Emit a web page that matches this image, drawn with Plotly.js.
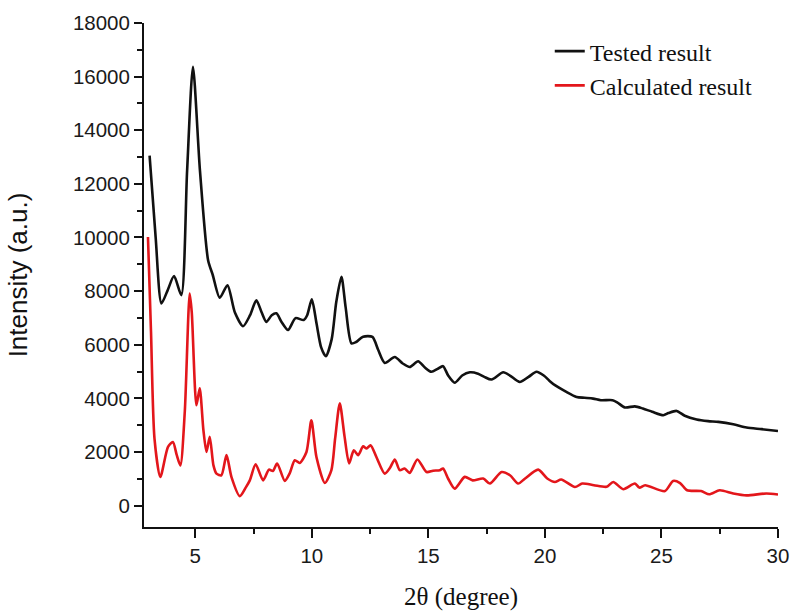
<!DOCTYPE html>
<html>
<head>
<meta charset="utf-8">
<script src="https://cdn.plot.ly/plotly-3.0.1.min.js"></script>
<style>html,body{margin:0;padding:0;background:#fff;}#chart{width:793px;height:611px;}</style>
</head>
<body>
<div id="chart"></div>
<script>
// Tested result (black)
const xTested = [3.04,3.3,3.55,3.8,4.09,4.40,4.65,4.90,5.2,5.55,5.75,6.05,6.38,6.7,7.05,7.35,7.62,7.85,8.05,8.28,8.48,8.7,8.98,9.3,9.65,9.8,10.0,10.2,10.4,10.6,10.85,11.05,11.27,11.45,11.7,11.9,12.2,12.6,12.85,13.13,13.56,13.9,14.2,14.56,14.85,15.13,15.4,15.63,15.85,16.13,16.45,16.78,17.13,17.4,17.71,18.21,18.5,18.92,19.3,19.64,19.95,20.2,20.43,20.9,21.36,21.7,22.07,22.4,22.9,23.1,23.43,23.86,24.2,24.6,25.08,25.3,25.65,26.0,26.51,27.0,27.44,28.08,28.65,29.3,30.0];
const yTested = [13050,10000,7540,8000,8560,7850,12500,16370,12500,9150,8600,7750,8220,7200,6690,7100,7660,7200,6850,7100,7170,6850,6550,6990,6920,7100,7690,6800,5900,5570,6200,7600,8530,7400,6050,6100,6300,6290,5800,5320,5540,5300,5170,5380,5150,4990,5100,5200,4850,4580,4850,4970,4920,4800,4700,4970,4850,4610,4800,4990,4850,4650,4490,4250,4050,4020,3990,3930,3930,3850,3660,3700,3620,3500,3370,3450,3530,3350,3210,3150,3120,3030,2910,2850,2780];
// Calculated result (red)
const xCalc = [2.97,3.1,3.25,3.5,3.83,4.04,4.2,4.36,4.55,4.76,4.85,5.05,5.19,5.35,5.48,5.62,5.78,5.91,6.12,6.34,6.55,6.91,7.15,7.34,7.59,7.91,8.16,8.33,8.51,8.84,9.05,9.27,9.48,9.77,9.98,10.2,10.56,10.84,11.0,11.2,11.4,11.6,11.8,11.99,12.2,12.35,12.52,12.77,13.13,13.35,13.56,13.77,13.98,14.2,14.53,14.92,15.2,15.49,15.63,15.85,16.13,16.56,16.9,17.35,17.64,18.14,18.5,18.85,19.15,19.71,20.1,20.43,20.7,21.29,21.6,22.1,22.65,22.93,23.36,23.86,24.05,24.3,25.15,25.5,25.8,26.1,26.7,27.05,27.5,28.08,28.65,29.5,30.0];
const yCalc = [10020,6500,2500,1070,2190,2370,1900,1500,3500,7910,7200,3740,4370,2800,2000,2560,1500,1190,1130,1880,1070,350,650,940,1540,940,1340,1290,1570,920,1200,1690,1590,2000,3180,1800,840,1320,2500,3810,2600,1570,2060,1880,2210,2130,2250,1810,1190,1400,1720,1320,1380,1220,1720,1250,1300,1320,1380,1000,630,1070,940,1010,820,1250,1130,820,1010,1340,1010,880,970,690,820,760,700,880,610,820,670,760,540,920,840,570,540,420,570,450,380,450,410];

const seriesNames = ['Tested result', 'Calculated result'];
const xTitle = '2θ (degree)';
const yTitle = 'Intensity (a.u.)';
const xTicks = [5,10,15,20,25,30];
const yTicks = [0,2000,4000,6000,8000,10000,12000,14000,16000,18000];

const traces = [
  {x: xTested, y: yTested, name: seriesNames[0], type: 'scatter', mode: 'lines',
   line: {color: '#111111', width: 2.6, shape: 'spline', smoothing: 0.7}},
  {x: xCalc, y: yCalc, name: seriesNames[1], type: 'scatter', mode: 'lines',
   line: {color: '#e3161b', width: 2.6, shape: 'spline', smoothing: 0.7}}
];

const tickFont = {family: 'Liberation Sans, Arial, sans-serif', size: 20.5, color: '#1a1a1a'};
const layout = {
  width: 793, height: 611,
  margin: {l: 144, r: 15, t: 23, b: 84},
  paper_bgcolor: '#ffffff', plot_bgcolor: '#ffffff',
  showlegend: true,
  legend: {x: 0.64, y: 0.988, xanchor: 'left', yanchor: 'top',
    font: {family: 'Liberation Serif, Times New Roman, serif', size: 24, color: '#111'},
    bgcolor: 'rgba(0,0,0,0)', borderwidth: 0},
  xaxis: {
    range: [2.8, 30], tickvals: xTicks, ticktext: xTicks.map(String),
    showline: true, linecolor: '#111', linewidth: 2, mirror: false,
    ticks: 'outside', ticklen: 9, tickwidth: 2, tickcolor: '#111',
    minor: {ticks: 'outside', ticklen: 5, tickwidth: 2, tickcolor: '#111', dtick: 2.5, tick0: 0, showgrid: false},
    showgrid: false, zeroline: false, tickfont: tickFont,
    title: {text: xTitle, font: {family: 'Liberation Serif, Times New Roman, serif', size: 25, color: '#111'}, standoff: 22}
  },
  yaxis: {
    range: [-800, 18000], tickvals: yTicks, ticktext: yTicks.map(String),
    showline: true, linecolor: '#111', linewidth: 2, mirror: false,
    ticks: 'outside', ticklen: 8, tickwidth: 2, tickcolor: '#111',
    minor: {ticks: 'outside', ticklen: 5, tickwidth: 2, tickcolor: '#111', dtick: 1000, tick0: 0, showgrid: false},
    showgrid: false, zeroline: false, tickfont: tickFont,
    title: {text: yTitle, font: {family: 'Liberation Sans, Arial, sans-serif', size: 26, color: '#111'}, standoff: 38}
  }
};

Plotly.newPlot('chart', traces, layout, {displayModeBar: false, staticPlot: true});
</script>
</body>
</html>
